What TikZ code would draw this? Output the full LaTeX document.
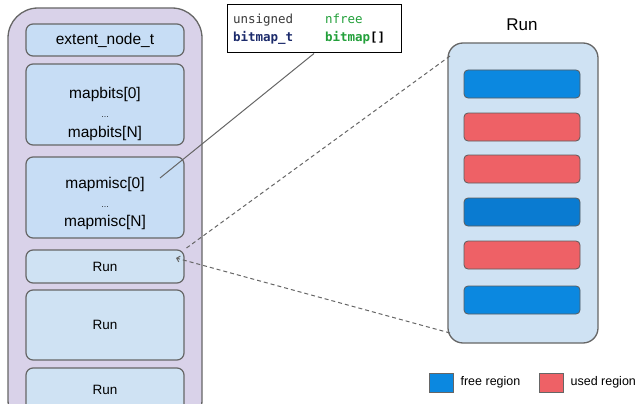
\documentclass[tikz,border=0pt]{standalone}
\usepackage{fontspec}
\setmainfont{Liberation Sans}
\setmonofont{DejaVu Sans Mono}
\usetikzlibrary{arrows.meta,positioning}
\definecolor{heapfill}{HTML}{D9D2E9}
\definecolor{edge}{HTML}{666666}
\definecolor{cellA}{HTML}{C7DDF5}
\definecolor{cellB}{HTML}{CFE2F3}
\definecolor{freeblue}{HTML}{0B88E0}
\definecolor{freedark}{HTML}{0A7BD1}
\definecolor{usedred}{HTML}{EE6166}
\definecolor{codegray}{HTML}{3A3A3A}
\definecolor{codegreen}{HTML}{22A03A}
\definecolor{codenavy}{HTML}{1B2A6B}
\begin{document}
\begin{tikzpicture}[x=1pt,y=-1pt,
  cell/.style={draw=edge, line width=1.2pt, rounded corners=7pt, fill=cellA,
    minimum width=158pt, inner sep=0pt, align=center,
    font=\fontsize{15.5}{18}\selectfont},
  celltext/.style={inner sep=0pt, align=center, font=\fontsize{15.5}{18}\selectfont},
  runcell/.style={cell, fill=cellB, font=\fontsize{13.5}{16}\selectfont},
  bar/.style={draw=edge!90!black, line width=0.8pt, rounded corners=4pt,
    minimum width=116pt, minimum height=28pt, inner sep=0pt},
  swatch/.style={draw=edge, line width=0.8pt, minimum width=24pt, minimum height=19pt, inner sep=0pt},
  legend/.style={font=\fontsize{12.5}{14}\selectfont, inner sep=0pt},
  zoomline/.style={draw=edge, line width=1pt, dash pattern=on 4pt off 3pt}]
\useasboundingbox (0,0) rectangle (640,404);
\clip (0,0) rectangle (640,404);

% extent node
\node[draw=edge, line width=1.3pt, fill=heapfill, rounded corners=30pt,
  minimum width=194pt, minimum height=422pt] (heap) at (105,219) {};
\node[cell, minimum height=32pt] (ext) at (105,40) {extent\_node\_t};
\node[cell, minimum height=81pt] (bits) at (105,104.5) {};
\node[celltext] (bitsl) at (105,114)
  {mapbits[0]\\[1pt]{\fontsize{8}{9}\selectfont\ldots}\\[2pt]mapbits[N]};
\node[cell, minimum height=81pt] (misc) at (105,197.5) {};
\node[celltext] (miscl) at (105,203)
  {mapmisc[0]\\[1pt]{\fontsize{8}{9}\selectfont\ldots}\\[1pt]mapmisc[N]};
\node[runcell, minimum height=33pt] (run1) at (105,266.5) {Run};
\node[runcell, minimum height=70pt] (run2) at (105,325) {Run};
\node[runcell, minimum height=44pt] (run3) at (105,390) {Run};

% bitmap fields
\node[draw=black, line width=1pt, fill=white, text width=162pt, inner sep=6pt,
  minimum height=48pt, align=left, font=\ttfamily\fontsize{12.5}{18}\selectfont]
  (code) at (314,29)
  {\makebox[92pt][l]{\color{codegray}unsigned}{\color{codegreen}nfree}\\
   \makebox[92pt][l]{\bfseries\color{codenavy}bitmap\_t}{\bfseries\color{codegreen}bitmap}{\bfseries[]}};
\coordinate (mm) at (160,178);
\draw[edge, line width=1pt] (code.south) -- (mm);

% run detail
\node[font=\fontsize{17}{20}\selectfont, inner sep=0pt] (title) at (522,25) {Run};
\node[draw=edge, line width=1.3pt, fill=cellB, rounded corners=15pt,
  minimum width=150pt, minimum height=300pt] (runbox) at (523,193) {};
\foreach \y/\c in {84/freeblue,127/usedred,169/usedred,212/freedark,255/usedred,300/freeblue}
  \node[bar, fill=\c] (bar\y) at (522,\y) {};

\coordinate (zt) at (450,56);
\coordinate (zb) at (450,333);
\coordinate (tip) at (176,258);
\draw[zoomline] (zt) -- (run1.north east);
\draw[zoomline, -{Straight Barb[length=3pt,width=6pt]}] (zb) -- (tip);

% legend
\node[swatch, fill=freeblue] (fsw) at (441,382.5) {};
\node[legend, right=7pt of fsw] (ftext) {free region};
\node[swatch, fill=usedred] (usw) at (551,382.5) {};
\node[legend, right=7pt of usw] (utext) {used region};
\end{tikzpicture}
\end{document}
